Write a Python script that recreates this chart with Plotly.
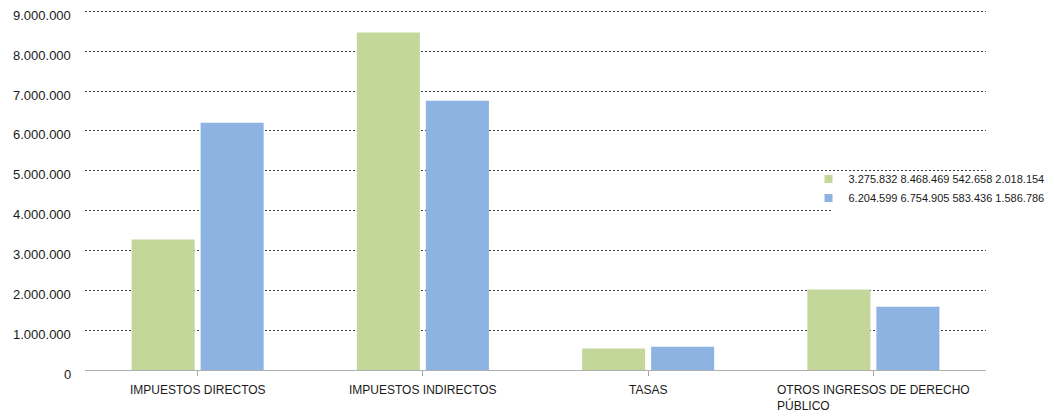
import plotly.graph_objects as go

categories = ["IMPUESTOS DIRECTOS", "IMPUESTOS INDIRECTOS", "TASAS", "OTROS INGRESOS DE DERECHO<br>PÚBLICO"]
series_names = ["3.275.832 8.468.469 542.658 2.018.154", "6.204.599 6.754.905 583.436 1.586.786"]
series_colors = ["#c4d79b", "#8db3e2"]
green_values = [3275832, 8468469, 542658, 2018154]
blue_values = [6204599, 6754905, 583436, 1586786]
y_ticks = [0, 1000000, 2000000, 3000000, 4000000, 5000000, 6000000, 7000000, 8000000, 9000000]

FONT = "Liberation Sans, Arial, sans-serif"

fig = go.Figure()
xs = list(range(len(categories)))
for vals, name, col in zip([green_values, blue_values], series_names, series_colors):
    fig.add_trace(go.Bar(x=xs, y=vals, name=name, showlegend=False,
                         marker=dict(color=col, line=dict(width=0))))
# legend entries with small square swatches
for name, col in zip(series_names, series_colors):
    fig.add_trace(go.Scatter(x=[None], y=[None], mode="markers", name=name,
                             marker=dict(symbol="square", size=8, color=col)))

# category labels (left-aligned lines, centred block)
for i, c in enumerate(categories):
    fig.add_annotation(x=i, y=0, xref="x", yref="paper", text=c, showarrow=False,
                       xanchor="center", yanchor="top", yshift=-11, align="left",
                       font=dict(family=FONT, size=12, color="#1a1a1a"))

# value-axis labels, drawn slightly below their gridlines as in the reference
for v in y_ticks:
    fig.add_annotation(x=0, y=v, xref="paper", yref="y", text=f"{v:,}".replace(",", "."),
                       showarrow=False, xanchor="right", yanchor="middle",
                       xshift=-12, yshift=-4,
                       font=dict(family=FONT, size=13, color="#1a1a1a"))

# white legend background box that hides part of a gridline, as in the reference
fig.add_shape(type="rect", xref="paper", yref="paper", x0=0.829, x1=1.0,
              y0=0.44, y1=0.545, fillcolor="white", line=dict(width=0), layer="above")

# the page body adds an 8px offset; margins compensate for it
fig.update_layout(
    width=1054, height=411,
    margin=dict(l=77, r=76, t=0.6, b=49, autoexpand=False),
    paper_bgcolor="white", plot_bgcolor="white",
    barmode="group", bargap=0.387, bargroupgap=0.087,
    font=dict(family=FONT, color="#1a1a1a"),
    legend=dict(x=0.803, xanchor="left", y=0.503, yanchor="middle",
                bgcolor="rgba(255,255,255,0)", font=dict(family=FONT, size=11, color="#1a1a1a"),
                itemwidth=30, tracegroupgap=0),
    showlegend=True,
)
fig.update_xaxes(range=[-0.5, len(categories) - 0.5], tickmode="array",
                 tickvals=xs, ticktext=["" for _ in categories],
                 tickson="boundaries", ticks="outside", ticklen=5, tickcolor="#a6a6a6",
                 showline=True, linecolor="#b0b0b0", linewidth=1, showgrid=False, zeroline=False,
                 automargin=False)
fig.update_yaxes(range=[0, 9060000], tickmode="array", tickvals=y_ticks,
                 ticktext=["" for _ in y_ticks],
                 showgrid=True, gridcolor="#404040", griddash="2px,2px", gridwidth=1,
                 zeroline=False, showline=False, ticks="", automargin=False)

fig.write_html("out.html")
